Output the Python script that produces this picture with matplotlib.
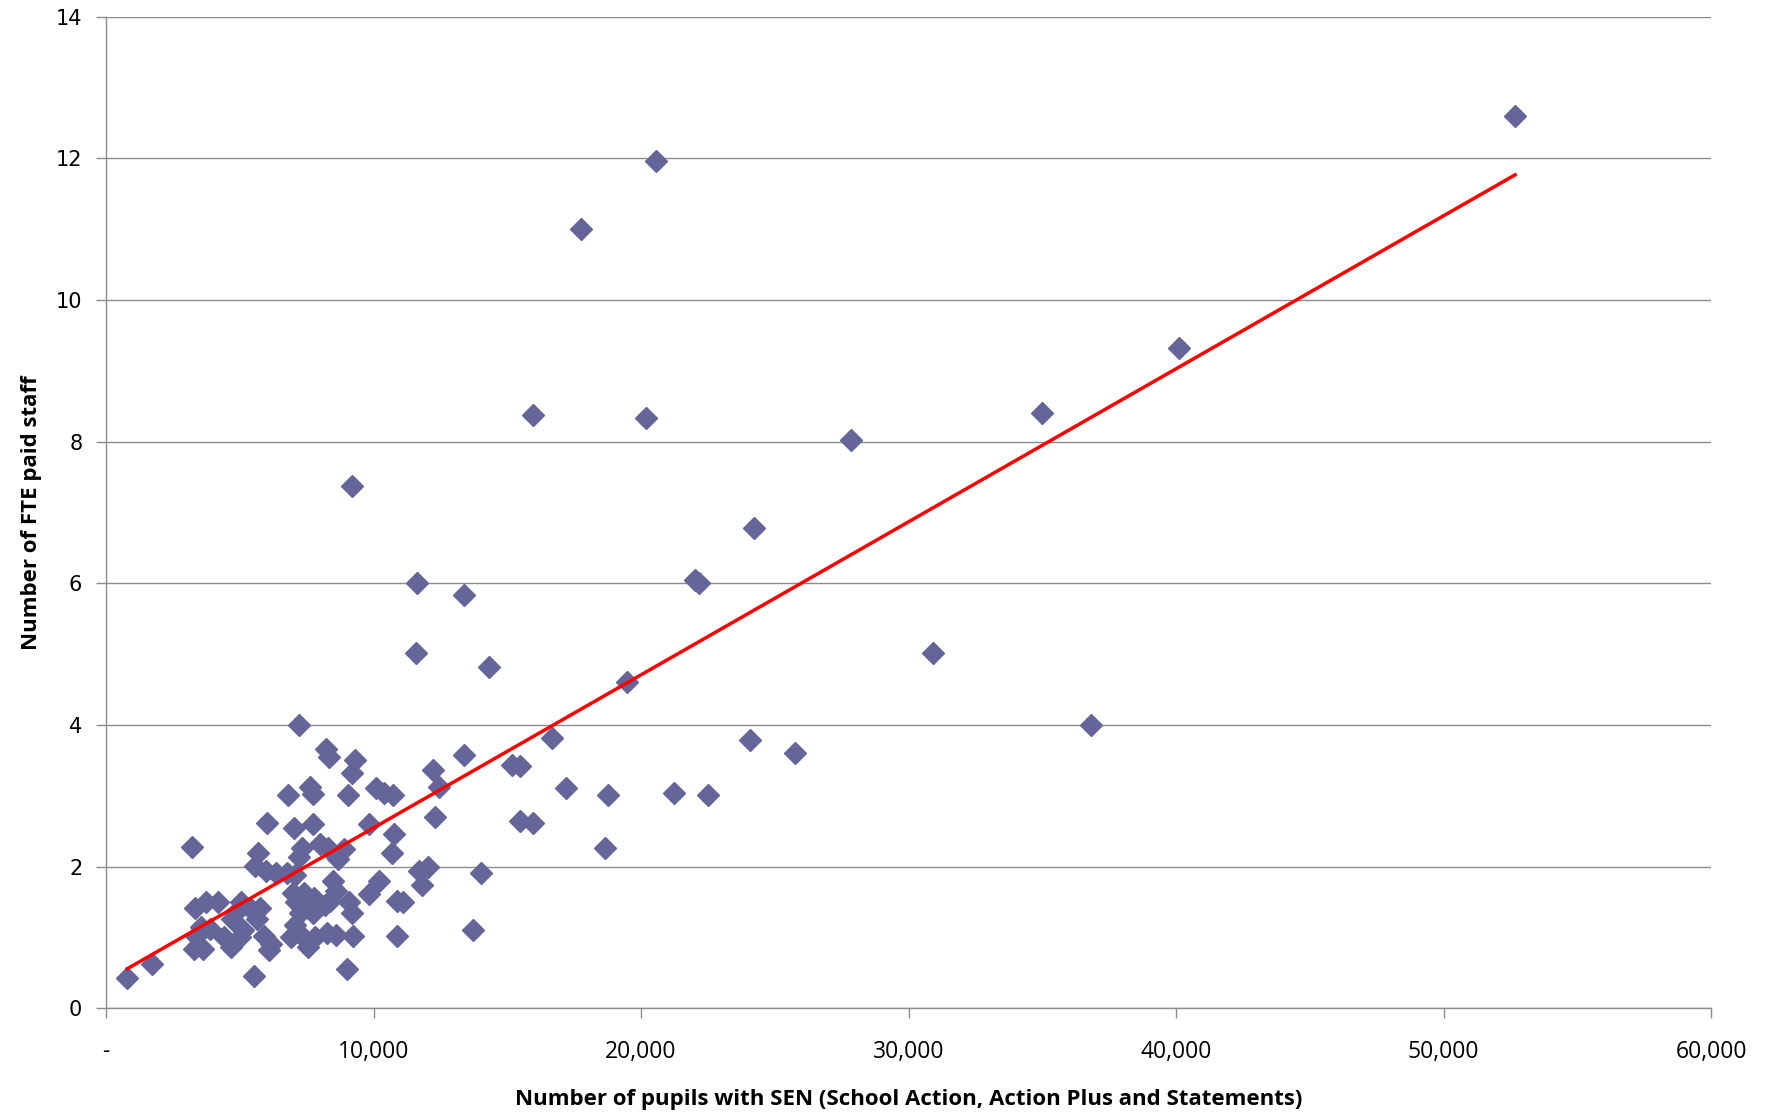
import numpy as np
import matplotlib
matplotlib.use("Agg")
import matplotlib.pyplot as plt
from matplotlib.ticker import FuncFormatter

# Number of pupils with SEN
sen_pupils = [
    52670, 20545, 17770, 40120, 15960, 20170, 34990, 27830, 9180, 24210,
    22020, 22150, 11620, 13390, 11580, 30900, 14310, 19490, 36800, 7200,
    16670, 24080, 25770, 13390, 8210, 8340, 9300, 9180, 12210, 15160,
    15460, 17180, 12460, 21220, 22520, 18780, 7620, 7750, 6820, 10100,
    10400, 10740, 9050, 12290, 15490, 15960, 3200, 18650, 6020, 7030,
    7750, 9850, 10780, 10690, 7330, 7200, 8000, 8290, 8670, 8880,
    5680, 5560, 5980, 6360, 6780, 7070, 12040, 11700, 11830, 10190,
    9850, 8500, 8590, 8380, 8170, 9100, 9180, 10860, 11110, 14020,
    13730, 10860, 9220, 9010, 8250, 8590, 7830, 7540, 7330, 7070,
    6900, 7240, 7000, 7410, 7110, 7580, 7790, 7750, 5520, 6110,
    5900, 5640, 5770, 5390, 5050, 4880, 4720, 5140, 5010, 4670,
    4420, 3750, 4170, 3330, 3540, 3870, 3280, 3620, 3370, 1730,
    800, 6150,
]
# Number of FTE paid staff
fte_staff = [
    12.6, 11.96, 11.0, 9.32, 8.37, 8.34, 8.4, 8.02, 7.38, 6.78,
    6.04, 6.0, 6.0, 5.83, 5.02, 5.02, 4.82, 4.61, 4.0, 4.0,
    3.81, 3.78, 3.6, 3.57, 3.66, 3.54, 3.51, 3.32, 3.36, 3.43,
    3.42, 3.11, 3.13, 3.04, 3.01, 3.01, 3.12, 3.03, 3.01, 3.11,
    3.04, 3.01, 3.01, 2.7, 2.64, 2.61, 2.27, 2.26, 2.61, 2.55,
    2.6, 2.6, 2.46, 2.19, 2.26, 2.14, 2.32, 2.26, 2.11, 2.25,
    2.19, 2.01, 1.94, 1.91, 1.91, 1.88, 2.0, 1.94, 1.74, 1.79,
    1.61, 1.79, 1.66, 1.52, 1.45, 1.5, 1.35, 1.52, 1.5, 1.91,
    1.1, 1.02, 1.02, 0.56, 1.06, 1.04, 1.0, 0.86, 1.02, 1.18,
    1.0, 1.34, 1.63, 1.63, 1.5, 1.5, 1.55, 1.34, 0.45, 0.82,
    1.02, 1.26, 1.41, 1.42, 1.5, 1.37, 1.26, 1.1, 1.0, 0.86,
    1.0, 1.5, 1.5, 1.42, 1.14, 1.12, 0.83, 0.83, 1.02, 0.63,
    0.42, 0.9,
]

x_ticks = [0, 10000, 20000, 30000, 40000, 50000, 60000]
y_ticks = [0, 2, 4, 6, 8, 10, 12, 14]
x_label = "Number of pupils with SEN (School Action, Action Plus and Statements)"
y_label = "Number of FTE paid staff"

x = np.array(sen_pupils, dtype=float)
y = np.array(fte_staff, dtype=float)

fig = plt.figure(figsize=(17.66, 11.14), dpi=100)
ax = fig.add_axes([0.060, 0.095, 0.909, 0.890])

ax.set_xlim(0, 60000)
ax.set_ylim(0, 14)
ax.set_xticks(x_ticks)
ax.set_yticks(y_ticks)
ax.yaxis.grid(True, color="#8c8c8c", linewidth=1.0)
ax.set_axisbelow(True)

ax.plot(x, y, linestyle="none", marker="D", markersize=11,
        color="#65659a", markeredgecolor="#65659a", zorder=3)

# Linear trendline over the data range
slope, intercept = np.polyfit(x, y, 1)
xs = np.array([x.min(), x.max()])
ax.plot(xs, slope * xs + intercept, color="#ff0000", linewidth=2.5, zorder=4)

def fmt_x(v, pos):
    if v == 0:
        return "-"
    return f"{int(v):,}"

ax.xaxis.set_major_formatter(FuncFormatter(fmt_x))

for s in ["top", "right"]:
    ax.spines[s].set_visible(False)
for s in ["left", "bottom"]:
    ax.spines[s].set_color("#8c8c8c")
    ax.spines[s].set_linewidth(1.0)

ax.tick_params(axis="both", direction="out", length=7, color="#8c8c8c", width=1.0)
ax.tick_params(axis="x", labelsize=16.5, pad=16)
ax.tick_params(axis="y", labelsize=15, pad=10)
for lbl in ax.get_xticklabels():
    lbl.set_family("Open Sans")
for lbl in ax.get_yticklabels():
    lbl.set_family("DejaVu Sans")

ax.set_xlabel(x_label, fontsize=16, fontweight="bold", family="Open Sans", labelpad=18)
ax.set_ylabel(y_label, fontsize=16, fontweight="bold", family="Open Sans", labelpad=10)

fig.savefig("out.png", dpi=100)
